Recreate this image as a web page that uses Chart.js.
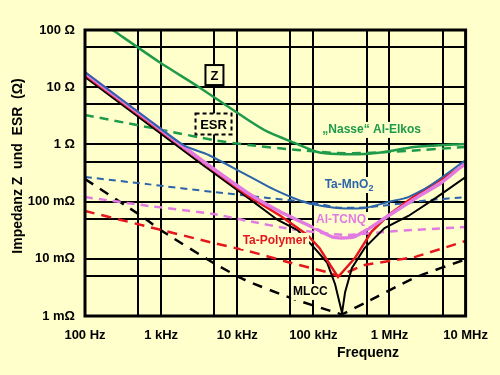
<!DOCTYPE html>
<html>
<head>
<meta charset="utf-8">
<script src="https://cdn.jsdelivr.net/npm/chart.js@4.4.1/dist/chart.umd.min.js"></script>
<style>
  html, body { margin: 0; padding: 0; background: #ffffcc; }
  #wrap { width: 500px; height: 375px; }
</style>
</head>
<body>
<div id="wrap"><canvas id="chart" width="500" height="375"></canvas></div>
<script>
// axis ticks (grid at 1 and 5 per decade, labels only on decades)
const xTicks = [100, 500, 1e3, 5e3, 1e4, 5e4, 1e5, 5e5, 1e6, 5e6, 1e7];
const xTickLabels = ["100 Hz", "", "1 kHz", "", "10 kHz", "", "100 kHz", "", "1 MHz", "", "10 MHz"];
const yTicks = [0.001, 0.005, 0.01, 0.05, 0.1, 0.5, 1, 5, 10, 50, 100];
const yTickLabels = ["1 mΩ", "", "10 mΩ", "", "100 mΩ", "", "1 Ω", "", "10 Ω", "", "100 Ω"];

// [frequency Hz, ohm]
const elkoZ = [[231, 100], [942, 27.6], [3120, 10.1], [13900, 2.67], [25300, 1.65], [56600, 1.06],
  [113000, 0.737], [205000, 0.679], [473000, 0.679], [861000, 0.737], [2.11e6, 0.9], [1e7, 1.02]];
const elkoESR = [[100, 3.27], [1030, 1.79], [4880, 1.19], [13900, 0.977], [61900, 0.798],
  [205000, 0.708], [502000, 0.708], [1.66e6, 0.767], [1e7, 0.9]];

const mno2Z = [[100, 18.4], [698, 2.64], [1990, 0.96], [4200, 0.653], [11270, 0.329], [31200, 0.16],
  [83500, 0.0946], [205000, 0.0773], [473000, 0.0773], [971000, 0.0984], [1.77e6, 0.12],
  [3.51e6, 0.195], [1e7, 0.533]];
const mno2ESR = [[100, 0.269], [698, 0.2], [4880, 0.147], [25300, 0.116], [103000, 0.0946],
  [205000, 0.079], [473000, 0.079], [971000, 0.087], [3.51e6, 0.107], [1e7, 0.12]];

const tcnqZ = [[100, 17.7], [698, 2.57], [3120, 0.578], [13900, 0.14], [37200, 0.0658], [103000, 0.0345],
  [177000, 0.0241], [238000, 0.0231], [341000, 0.0241], [550000, 0.0345], [914000, 0.0538],
  [2.24e6, 0.116], [4.73e6, 0.211], [1e7, 0.473]];
const tcnqESR = [[100, 0.12], [698, 0.0838], [4880, 0.0607], [13900, 0.0458], [50200, 0.0332],
  [166000, 0.0272], [277000, 0.0261], [1.23e6, 0.0306], [1e7, 0.036]];

const polyZ = [[100, 16.3], [3120, 0.55], [13900, 0.126], [37200, 0.056], [83500, 0.0261], [120000, 0.0155],
  [166000, 0.0078], [211000, 0.0048], [351000, 0.0103], [583000, 0.03], [971000, 0.0583],
  [2.05e6, 0.12], [3.72e6, 0.2], [1e7, 0.45]];
const polyESR = [[100, 0.0685], [698, 0.036], [4880, 0.0189], [13900, 0.0137], [45900, 0.0088],
  [166000, 0.00565], [211000, 0.005], [473000, 0.0078], [2.11e6, 0.0107], [1e7, 0.0205]];

const mlccZ = [[100, 15.1], [3120, 0.492], [13900, 0.116], [34000, 0.0477], [61900, 0.0319], [103000, 0.0155],
  [152000, 0.0085], [193000, 0.0036], [238000, 0.00113], [261000, 0.0026], [321000, 0.0069],
  [473000, 0.0155], [861000, 0.0345], [1.77e6, 0.056], [4.07e6, 0.116], [1e7, 0.269]];
const mlccESR = [[100, 0.248], [550, 0.056], [1030, 0.0306], [4880, 0.00845], [12700, 0.00426],
  [50200, 0.00207], [205000, 0.00113], [238000, 0.00108], [473000, 0.00169], [2.11e6, 0.00461],
  [1e7, 0.0098]];

const BG = "#ffffcc";
const GREEN = "#1f9a4a", BLUE = "#2c63a9", PINK = "#e17be1", RED = "#e3171d", BLACK = "#000";
const FONT = "'Liberation Sans', Arial, sans-serif";

const pts = (arr) => arr.map(([x, y]) => ({ x, y }));
function line(data, color, width, dash, tension) {
  return {
    data: pts(data),
    borderColor: color,
    borderWidth: width,
    borderDash: dash || [],
    tension: tension,
    pointRadius: 0,
    fill: false,
  };
}

// labels anchored in data space
const notes = [
  { text: "„Nasse“ Al-Elkos", f: 5.83e5, z: 1.79, color: GREEN },
  { text: "Ta-MnO", sub: "2", f: 2.94e5, z: 0.195, color: BLUE },
  { text: "Al-TCNQ", f: 2.31e5, z: 0.0477, color: PINK },
  { text: "Ta-Polymer", f: 3.12e4, z: 0.0205, color: RED },
  { text: "MLCC", f: 9.15e4, z: 0.00263, color: BLACK },
];

const decor = {
  id: "decor",
  afterDatasetsDraw(chart) {
    const { ctx, chartArea: a, scales } = chart;
    ctx.save();
    ctx.textAlign = "left";
    ctx.textBaseline = "middle";
    notes.forEach((n) => {
      const cx = scales.x.getPixelForValue(n.f);
      const cy = scales.y.getPixelForValue(n.z);
      ctx.font = "bold 12px " + FONT;
      const w1 = ctx.measureText(n.text).width;
      let w2 = 0;
      if (n.sub) {
        ctx.font = "bold 9px " + FONT;
        w2 = ctx.measureText(n.sub).width;
      }
      const w = w1 + w2;
      ctx.fillStyle = BG;
      ctx.fillRect(cx - w / 2 - 2, cy - 8, w + 4, 16);
      ctx.fillStyle = n.color;
      ctx.font = "bold 12px " + FONT;
      ctx.fillText(n.text, cx - w / 2, cy);
      if (n.sub) {
        ctx.font = "bold 9px " + FONT;
        ctx.fillText(n.sub, cx - w / 2 + w1, cy + 4);
      }
    });

    // Z and ESR legend boxes
    const box = (f, z, bw, bh, label, dashed) => {
      const cx = scales.x.getPixelForValue(f);
      const cy = scales.y.getPixelForValue(z);
      ctx.fillStyle = BG;
      ctx.fillRect(cx - bw / 2, cy - bh / 2, bw, bh);
      ctx.strokeStyle = BLACK;
      ctx.lineWidth = 2;
      ctx.setLineDash(dashed ? [4, 3] : []);
      ctx.strokeRect(cx - bw / 2, cy - bh / 2, bw, bh);
      ctx.setLineDash([]);
      ctx.fillStyle = BLACK;
      ctx.font = "bold 13px " + FONT;
      ctx.textAlign = "center";
      ctx.fillText(label, cx, cy + 1);
    };
    box(5.02e3, 16.3, 18, 20, "Z", false);
    box(4.88e3, 2.28, 36, 21, "ESR", true);

    // heavy frame round the plot
    ctx.strokeStyle = BLACK;
    ctx.lineWidth = 3;
    ctx.strokeRect(a.left, a.top, a.right - a.left, a.bottom - a.top);

    // axis titles
    ctx.fillStyle = BLACK;
    ctx.font = "bold 14px " + FONT;
    ctx.textAlign = "center";
    ctx.fillText("Frequenz", 368, 353);
    ctx.translate(18, 166);
    ctx.rotate(-Math.PI / 2);
    ctx.fillText("Impedanz Z  und  ESR  (Ω)", 0, 0);
    ctx.restore();
  },
};

const grid = { color: "#000", lineWidth: 2, drawTicks: false };
const tickFont = { family: FONT, size: 13, weight: "bold" };

new Chart(document.getElementById("chart"), {
  type: "line",
  data: {
    datasets: [
      line(mno2Z, BLUE, 2, null, 0.2),
      line(tcnqZ, PINK, 3.5, null, 0.2),
      line(polyZ, RED, 2.5, null, 0),
      line(mlccZ, BLACK, 2, null, 0),
      line(elkoZ, GREEN, 2.5, null, 0.2),
      line(elkoESR, GREEN, 2.5, [9, 6], 0.2),
      line(mno2ESR, BLUE, 2, [7, 5], 0.2),
      line(tcnqESR, PINK, 2.5, [8, 6], 0.2),
      line(polyESR, RED, 2.5, [10, 7], 0.1),
      line(mlccESR, BLACK, 2.5, [10, 8], 0.2),
    ],
  },
  options: {
    responsive: false,
    animation: false,
    events: [],
    layout: { padding: { top: 30, right: 30, left: 0, bottom: 0 } },
    plugins: { legend: { display: false }, tooltip: { enabled: false } },
    scales: {
      x: {
        type: "logarithmic",
        min: 100,
        max: 1e7,
        grid,
        border: { display: false },
        afterBuildTicks: (s) => { s.ticks = xTicks.map((v) => ({ value: v })); },
        afterFit: (s) => { s.height = 59; },
        ticks: {
          autoSkip: false,
          maxRotation: 0,
          padding: 12,
          color: "#000",
          font: tickFont,
          callback: (v) => xTickLabels[xTicks.indexOf(v)] || "",
        },
      },
      y: {
        type: "logarithmic",
        min: 0.001,
        max: 100,
        grid,
        border: { display: false },
        afterBuildTicks: (s) => { s.ticks = yTicks.map((v) => ({ value: v })); },
        afterFit: (s) => { s.width = 85; },
        ticks: {
          autoSkip: false,
          padding: 10,
          color: "#000",
          font: tickFont,
          callback: (v) => yTickLabels[yTicks.indexOf(v)] || "",
        },
      },
    },
  },
  plugins: [decor],
});
</script>
</body>
</html>
